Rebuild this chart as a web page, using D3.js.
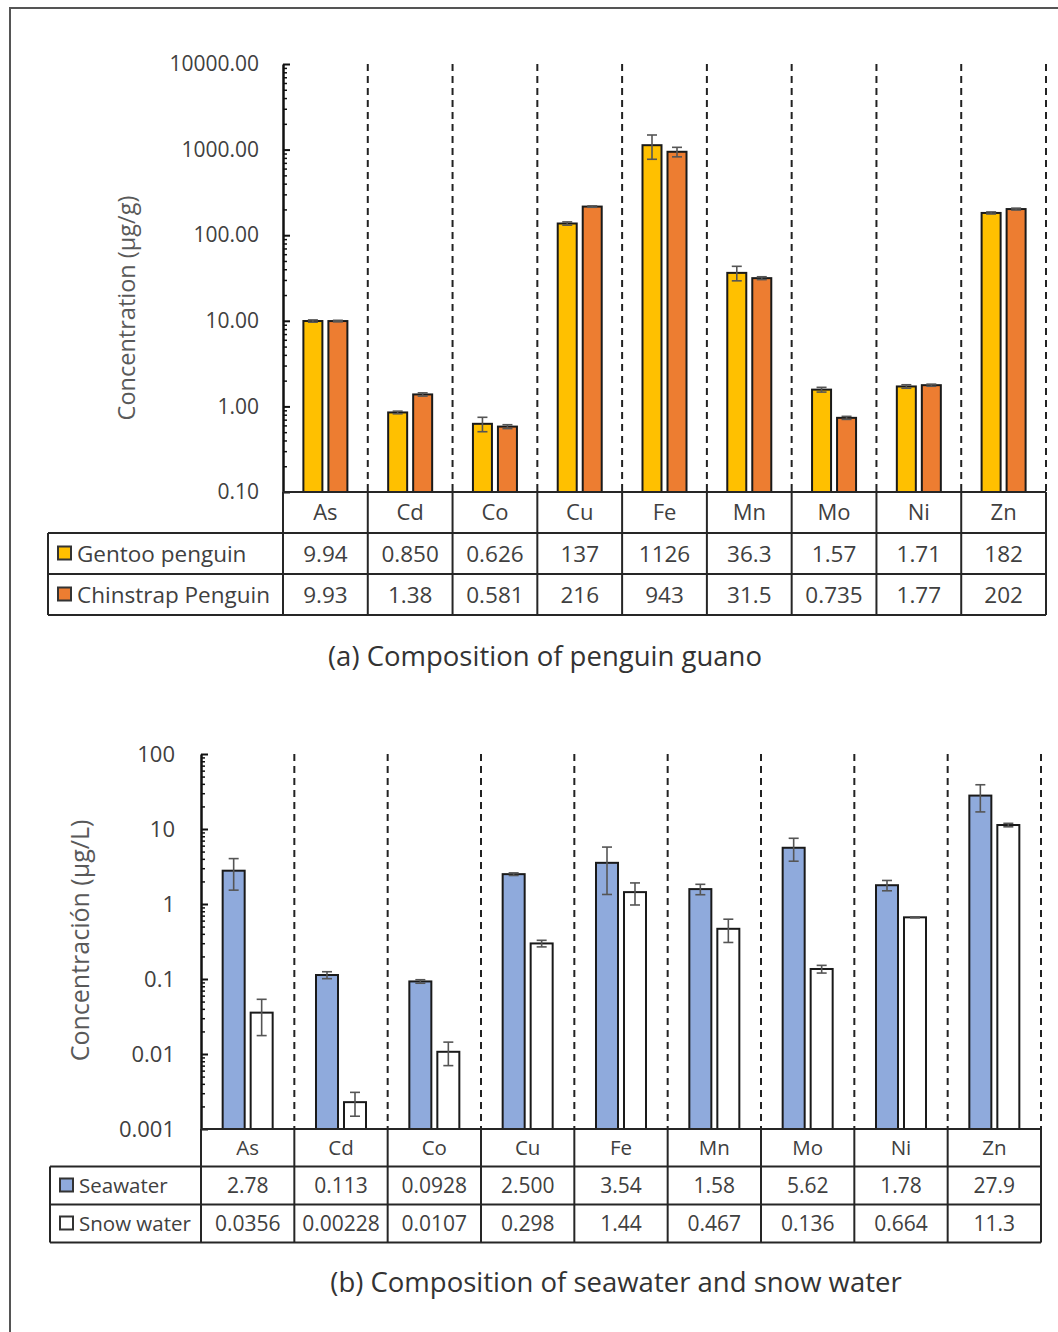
<!DOCTYPE html>
<html>
<head>
<meta charset="utf-8">
<script src="https://cdn.jsdelivr.net/npm/d3@7"></script>
<style>
  body { margin: 0; background: #fff; }
  svg text { font-family: "Open Sans", "Noto Sans", sans-serif; }
</style>
</head>
<body>
<svg id="chart" width="1058" height="1332"></svg>
<script>
// categories
const elements = ["As", "Cd", "Co", "Cu", "Fe", "Mn", "Mo", "Ni", "Zn"];

// (a) penguin guano, µg/g
const gentoo = [9.94, 0.850, 0.626, 137, 1126, 36.3, 1.57, 1.71, 182];
const gentooErr = [0.3, 0.03, 0.12, 6, 355, 7, 0.1, 0.08, 5];
const gentooText = ["9.94", "0.850", "0.626", "137", "1126", "36.3", "1.57", "1.71", "182"];
const chinstrap = [9.93, 1.38, 0.581, 216, 943, 31.5, 0.735, 1.77, 202];
const chinstrapErr = [0.2, 0.06, 0.03, 4, 120, 1.2, 0.03, 0.05, 5];
const chinstrapText = ["9.93", "1.38", "0.581", "216", "943", "31.5", "0.735", "1.77", "202"];

// (b) seawater and snow water, µg/L
const seawater = [2.78, 0.113, 0.0928, 2.500, 3.54, 1.58, 5.62, 1.78, 27.9];
const seawaterErr = [1.25, 0.012, 0.005, 0.1, 2.2, 0.25, 1.9, 0.28, 11];
const seawaterText = ["2.78", "0.113", "0.0928", "2.500", "3.54", "1.58", "5.62", "1.78", "27.9"];
const snow = [0.0356, 0.00228, 0.0107, 0.298, 1.44, 0.467, 0.136, 0.664, 11.3];
const snowErr = [0.018, 0.0008, 0.0037, 0.03, 0.47, 0.16, 0.016, 0.01, 0.6];
const snowText = ["0.0356", "0.00228", "0.0107", "0.298", "1.44", "0.467", "0.136", "0.664", "11.3"];

const svg = d3.select("#chart");

// outer frame (only left + top visible in the original)
svg.append("path")
  .attr("d", "M10,1332 V8 H1058")
  .attr("fill", "none")
  .attr("stroke", "#555")
  .attr("stroke-width", 2);

function drawPanel(p) {
  const g = svg.append("g");

  const x = d3.scaleBand().domain(elements).range([p.x0, p.x1]);
  const bw = x.bandwidth();
  const xs = d3.scaleBand()
    .domain(d3.range(p.series.length))
    .range([bw / 2 - p.group / 2, bw / 2 + p.group / 2])
    .paddingInner(p.inner);
  const y = d3.scaleLog().domain(p.domain).range([p.yBot, p.yTop]);

  // dashed separators between the categories
  g.selectAll(".sep").data(elements).join("line")
    .attr("x1", d => x(d) + bw).attr("x2", d => x(d) + bw)
    .attr("y1", p.yTop).attr("y2", p.yBot)
    .attr("stroke", "#222").attr("stroke-width", 2)
    .attr("stroke-dasharray", "7,5");

  // bars + error bars
  p.series.forEach((s, si) => {
    g.selectAll(null).data(s.values).join("rect")
      .attr("x", (d, i) => x(elements[i]) + xs(si))
      .attr("y", d => y(d))
      .attr("width", xs.bandwidth())
      .attr("height", d => p.yBot - y(d))
      .attr("fill", s.color)
      .attr("stroke", "#1a1a1a")
      .attr("stroke-width", 2);

    const eg = g.selectAll(null).data(s.values).join("g")
      .attr("transform", (d, i) => `translate(${x(elements[i]) + xs(si) + xs.bandwidth() / 2},0)`)
      .attr("stroke", "#555").attr("stroke-width", 1.6);
    eg.append("line")
      .attr("y1", (d, i) => y(d + s.err[i]))
      .attr("y2", (d, i) => y(Math.max(d - s.err[i], p.domain[0])));
    eg.append("line").attr("x1", -5).attr("x2", 5)
      .attr("y1", (d, i) => y(d + s.err[i])).attr("y2", (d, i) => y(d + s.err[i]));
    eg.append("line").attr("x1", -5).attr("x2", 5)
      .attr("y1", (d, i) => y(d - s.err[i])).attr("y2", (d, i) => y(d - s.err[i]));
  });

  // log axis: majors with labels, minors without
  const all = y.ticks();
  const isMajor = v => Math.abs(Math.log10(v) - Math.round(Math.log10(v))) < 1e-9;
  const majors = all.filter(isMajor);
  const minors = all.filter(v => !isMajor(v));

  const ag = g.append("g")
    .attr("transform", `translate(${p.x0},0)`)
    .call(d3.axisLeft(y).tickValues(majors).tickFormat(p.fmt)
      .tickSize(-7).tickSizeOuter(0).tickPadding(p.pad));
  ag.select(".domain").attr("stroke", "#111").attr("stroke-width", 2.5);
  ag.selectAll(".tick line").attr("stroke", "#111").attr("stroke-width", 2);
  ag.selectAll(".tick text")
    .attr("font-size", p.tickFont)
    .attr("font-family", "'Open Sans', sans-serif")
    .attr("fill", "#404040");

  g.append("g")
    .attr("transform", `translate(${p.x0},0)`)
    .call(d3.axisLeft(y).tickValues(minors).tickFormat("").tickSize(-4).tickSizeOuter(0))
    .call(a => a.select(".domain").remove())
    .selectAll(".tick line").attr("stroke", "#111").attr("stroke-width", 1.5);

  // y title
  g.append("text")
    .attr("transform", `translate(${p.titleX},${(p.yTop + p.yBot) / 2 + p.titleDy}) rotate(-90)`)
    .attr("text-anchor", "middle")
    .attr("dy", "0.35em")
    .attr("font-size", p.titleFont)
    .attr("fill", "#595959")
    .text(p.title);

  // data table below the plot
  const r0 = p.yBot, r1 = r0 + p.rowH[0], r2 = r1 + p.rowH[1], r3 = r2 + p.rowH[2];
  const lineC = "#262626";
  const hl = [[p.x0, r0], [p.legendLeft, r1], [p.legendLeft, r2], [p.legendLeft, r3]];
  g.selectAll(null).data(hl).join("line")
    .attr("x1", d => d[0]).attr("x2", p.x1)
    .attr("y1", d => d[1]).attr("y2", d => d[1])
    .attr("stroke", lineC).attr("stroke-width", 2);
  g.selectAll(null).data([p.x0].concat(elements.map(d => x(d) + bw))).join("line")
    .attr("x1", d => d).attr("x2", d => d)
    .attr("y1", r0).attr("y2", r3)
    .attr("stroke", lineC).attr("stroke-width", 2);
  g.append("line")
    .attr("x1", p.legendLeft).attr("x2", p.legendLeft)
    .attr("y1", r1).attr("y2", r3)
    .attr("stroke", lineC).attr("stroke-width", 2);

  g.selectAll(null).data(elements).join("text")
    .attr("x", d => x(d) + bw / 2)
    .attr("y", (r0 + r1) / 2)
    .attr("dy", "0.36em")
    .attr("text-anchor", "middle")
    .attr("font-size", p.headFont)
    .attr("fill", "#404040")
    .text(d => d);

  const rowMid = [(r1 + r2) / 2, (r2 + r3) / 2];
  p.series.forEach((s, si) => {
    g.selectAll(null).data(s.text).join("text")
      .attr("x", (d, i) => x(elements[i]) + bw / 2)
      .attr("y", rowMid[si])
      .attr("dy", "0.36em")
      .attr("text-anchor", "middle")
      .attr("font-size", p.cellFont)
      .attr("fill", "#404040")
      .text(d => d);

    g.append("rect")
      .attr("x", p.legendLeft + 10).attr("y", rowMid[si] - 7)
      .attr("width", 13).attr("height", 13)
      .attr("fill", s.color).attr("stroke", "#333").attr("stroke-width", 2);
    g.append("text")
      .attr("x", p.legendLeft + 29)
      .attr("y", rowMid[si])
      .attr("dy", "0.36em")
      .attr("font-size", p.legendFont)
      .attr("fill", "#404040")
      .text(s.name);
  });

  // caption
  g.append("text")
    .attr("x", p.capX).attr("y", p.capY)
    .attr("text-anchor", "middle")
    .attr("font-size", 27.5)
    .attr("fill", "#333")
    .text(p.caption);
}

drawPanel({
  x0: 283, x1: 1046, yTop: 64, yBot: 492,
  domain: [0.1, 10000],
  fmt: d3.format(".2f"),
  group: 44, inner: 0.24,
  pad: 24, tickFont: 21,
  title: "Concentration (µg/g)", titleX: 127, titleDy: 30, titleFont: 23.5,
  rowH: [41, 41, 41], legendLeft: 48,
  headFont: 22, cellFont: 22.5, legendFont: 22.5,
  caption: "(a) Composition of penguin guano", capX: 545, capY: 666,
  series: [
    { name: "Gentoo penguin", values: gentoo, err: gentooErr, text: gentooText, color: "#FFC000" },
    { name: "Chinstrap Penguin", values: chinstrap, err: chinstrapErr, text: chinstrapText, color: "#ED7D31" }
  ]
});

drawPanel({
  x0: 201, x1: 1041, yTop: 754, yBot: 1129,
  domain: [0.001, 100],
  fmt: d3.format("~g"),
  group: 50, inner: 0.214,
  pad: 26, tickFont: 22,
  title: "Concentración (µg/L)", titleX: 80, titleDy: -1, titleFont: 25,
  rowH: [37.5, 38, 38], legendLeft: 50,
  headFont: 20.5, cellFont: 21, legendFont: 20.5,
  caption: "(b) Composition of seawater and snow water", capX: 616, capY: 1292,
  series: [
    { name: "Seawater", values: seawater, err: seawaterErr, text: seawaterText, color: "#8FAADC" },
    { name: "Snow water", values: snow, err: snowErr, text: snowText, color: "#FFFFFF" }
  ]
});
</script>
</body>
</html>
